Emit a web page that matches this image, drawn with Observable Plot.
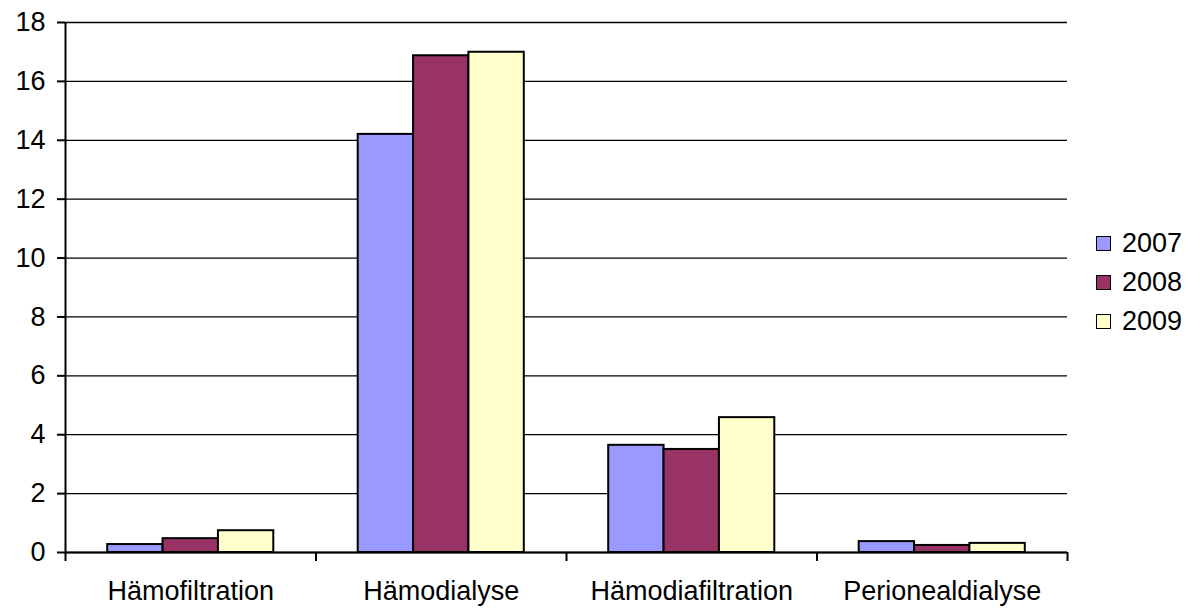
<!DOCTYPE html>
<html><head><meta charset="utf-8">
<script src="https://cdn.jsdelivr.net/npm/d3@7"></script>
<script src="https://cdn.jsdelivr.net/npm/@observablehq/plot@0.6"></script>
<style>
body{margin:0;background:#fff;font-family:"Liberation Sans",Arial,sans-serif}
#wrap{position:relative;width:1191px;height:608px}
#legend{position:absolute;left:1096px;top:224px;font-size:27px;color:#000}
.item{height:39px;line-height:39px;display:flex;align-items:center}
.sw{width:13px;height:13px;border:1px solid #000;margin-right:11px}
</style></head><body>
<div id="wrap"><div id="chart"></div><div id="legend"></div></div>
<script>
const categories = ["Hämofiltration","Hämodialyse","Hämodiafiltration","Perionealdialyse"];
const years = ["2007","2008","2009"];
const v2007 = [0.27, 14.2, 3.64, 0.37];
const v2008 = [0.47, 16.87, 3.5, 0.24];
const v2009 = [0.74, 16.99, 4.58, 0.31];
const yTicks = [0,2,4,6,8,10,12,14,16,18];
const colors = ["#9999FF","#993366","#FFFFCC"];

const series = [v2007, v2008, v2009];
const rows = [];
categories.forEach((c, ci) => years.forEach((y, yi) => rows.push({cat: c, ci, year: y, yi, value: series[yi][ci]})));
const bw = 0.221, gap = (1 - years.length * bw) / 2;

const chart = Plot.plot({
  width: 1191, height: 608,
  marginLeft: 65, marginRight: 124, marginTop: 22, marginBottom: 56,
  style: {fontFamily: '"Liberation Sans", Arial, sans-serif', fontSize: "27px", color: "#000", background: "#fff"},
  x: {domain: [0, categories.length]},
  y: {domain: [0, 18]},
  color: {domain: years, range: colors},
  marks: [
    Plot.gridY(yTicks, {stroke: "#000", strokeOpacity: 1, strokeWidth: 1.3}),
    Plot.rectY(rows, {x1: d => d.ci + gap + d.yi * bw, x2: d => d.ci + gap + (d.yi + 1) * bw, y: "value", fill: "year", stroke: "#000", strokeWidth: 2}),
    Plot.axisY({ticks: yTicks, tickSize: 8, tickPadding: 12, fontSize: 27, stroke: "#000", strokeWidth: 2, label: null}),
    Plot.axisX({ticks: d3.range(0, categories.length + 1), tickFormat: () => "", tickSize: 9, stroke: "#000", strokeWidth: 2, label: null}),
    Plot.axisX({ticks: categories.map((c, i) => i + 0.5), tickFormat: d => categories[Math.floor(d)], tickSize: 0, tickPadding: 28, fontSize: 27, label: null}),
    Plot.ruleX([0], {stroke: "#000", strokeWidth: 2}),
    Plot.ruleY([0], {stroke: "#000", strokeWidth: 2})
  ]
});
document.getElementById("chart").appendChild(chart);

const leg = document.getElementById("legend");
years.forEach((y, i) => {
  const it = document.createElement("div");
  it.className = "item";
  it.innerHTML = `<span class="sw" style="background:${colors[i]}"></span><span>${y}</span>`;
  leg.appendChild(it);
});
</script>
</body></html>
